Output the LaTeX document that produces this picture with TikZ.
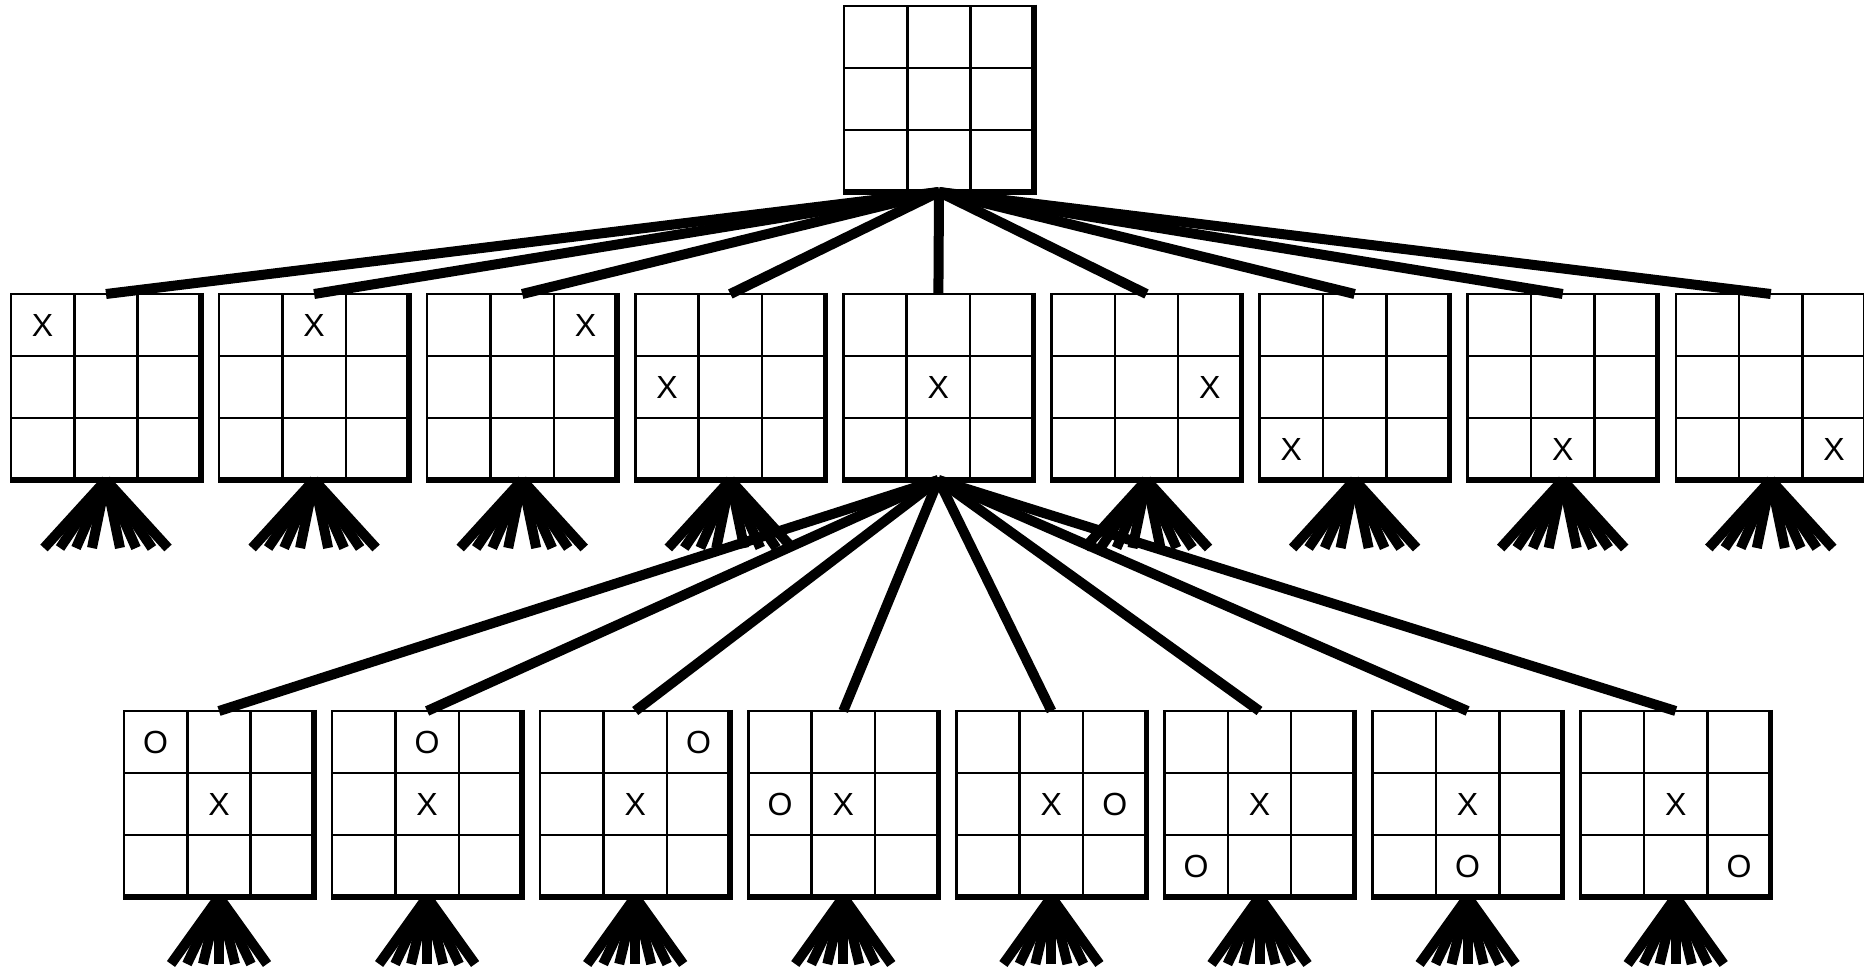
\documentclass[tikz,border=0pt]{standalone}
\usepackage{fontspec}
\setmainfont{Liberation Sans}
\usetikzlibrary{calc}
\tikzset{
  boardnode/.style={draw=none, minimum width=190pt, minimum height=186pt, inner sep=0pt, outer sep=0pt, anchor=north west},
  gridline/.style={line width=2.5pt, black},
  thickedge/.style={line width=5.5pt, black, line join=miter, line cap=butt},
  marktext/.style={inner sep=0pt, font=\fontsize{32}{32}\selectfont},
  edge/.style={line width=10pt, black, line cap=butt}
}
\newcommand{\tttboard}[2]{%
  \node[boardnode] (#1) at (#2) {};
  \draw[gridline] (#1.north west) rectangle (#1.south east);
  \foreach \t in {1,2}{
    \draw[gridline] ($(#1.north west)!\t/3!(#1.north east)$) -- ($(#1.south west)!\t/3!(#1.south east)$);
    \draw[gridline] ($(#1.north west)!\t/3!(#1.south west)$) -- ($(#1.north east)!\t/3!(#1.south east)$);
  }
  \draw[thickedge] ($(#1.north east)+(0,-1.25)$) -- (#1.south east) -- ($(#1.south west)+(-1.25,0)$);
}
\newcommand{\tttmark}[4]{% board, cell index, letter, name
  \pgfmathsetmacro\mkx{(mod(#2,3)+0.5)*190/3}
  \pgfmathsetmacro\mky{(int(#2/3)+0.5)*62}
  \node[marktext] (#4) at ($(#1.north west)+(\mkx,\mky)$) {#3};
}
\begin{document}
\begin{tikzpicture}[x=1pt,y=-1pt]
\useasboundingbox (0,0) rectangle (1864,971);
% top board
\tttboard{t}{844,6}
% first level
\foreach \k in {0,...,8}{
  \pgfmathsetmacro\xx{11+208.1*\k}
  \tttboard{r\k}{\xx,294}
  \tttmark{r\k}{\k}{X}{rx\k}
}
% second level
\foreach \k/\c in {0/0,1/1,2/2,3/3,4/5,5/6,6/7,7/8}{
  \pgfmathsetmacro\xx{124+208.1*\k}
  \tttboard{s\k}{\xx,711}
  \tttmark{s\k}{4}{X}{sx\k}
  \tttmark{s\k}{\c}{O}{so\k}
}
% connectors
\foreach \k in {0,...,8}{
  \draw[edge] (t.south) -- (r\k.north);
}
\foreach \k in {0,...,7}{
  \draw[edge] (r4.south) -- (s\k.north);
}
% fans below first level
\foreach \k in {0,1,2,3,5,6,7,8}{
  \foreach \d [count=\i] in {-62,-46,-30,-14,14,30,46,62}{
    \coordinate (fr\k-\i) at ($(r\k.south)+(\d,68)$);
    \draw[edge] (r\k.south) -- (fr\k-\i);
  }
}
% fans below second level
\foreach \k in {0,...,7}{
  \foreach \d [count=\i] in {-48,-32,-16,0,16,32,48}{
    \coordinate (fs\k-\i) at ($(s\k.south)+(\d,67)$);
    \draw[edge] (s\k.south) -- (fs\k-\i);
  }
}
\end{tikzpicture}
\end{document}
